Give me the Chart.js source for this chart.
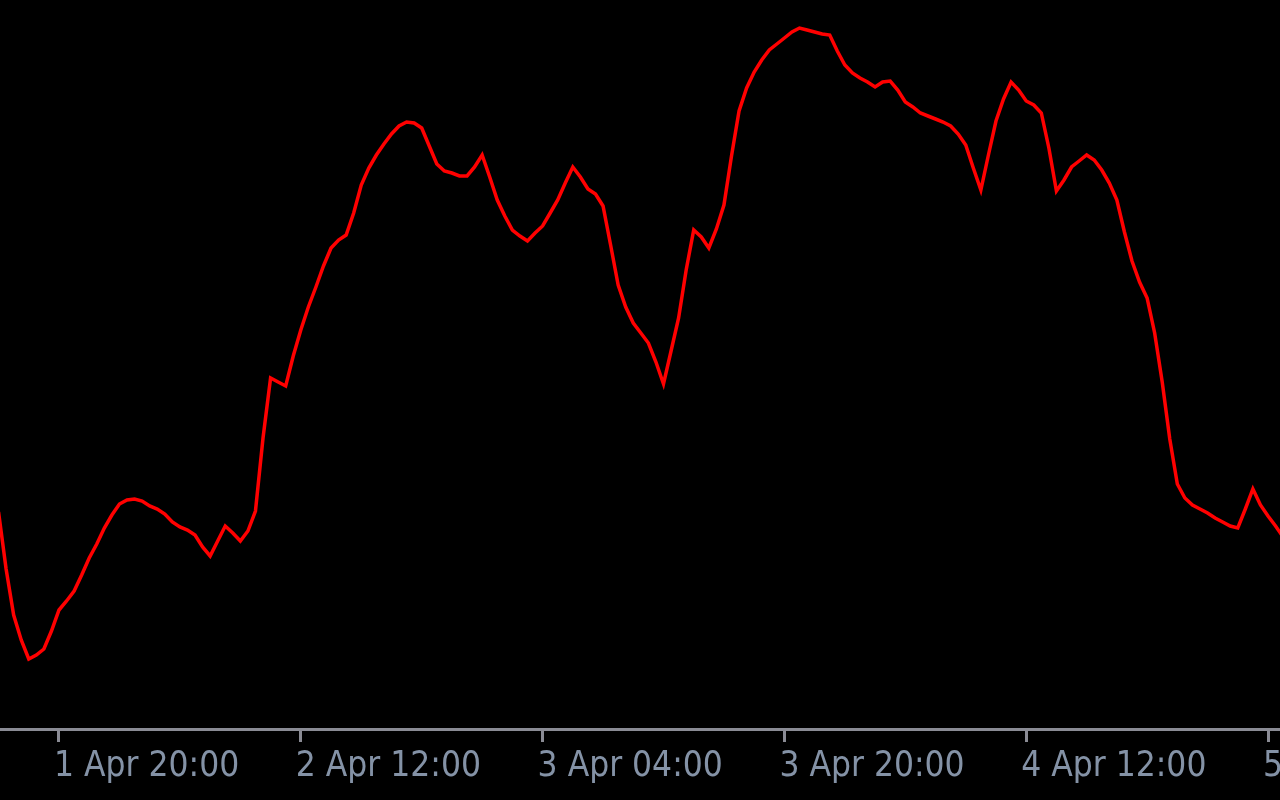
<!DOCTYPE html>
<html>
<head>
<meta charset="utf-8">
<script src="https://cdn.jsdelivr.net/npm/chart.js@4"></script>
<style>
    html, body { margin: 0; padding: 0; background: #000000; }
    #wrap { width: 1280px; height: 800px; position: relative; }
</style>
</head>
<body>
<div id="wrap"><canvas id="priceChart"></canvas></div>
<script>
// half-hour bars, hours counted from 1 Apr 00:00
const startHour = 16;
const stepHours = 0.5;

// indicator level, one value per half hour
const levels = [
    217, 160, 114, 89, 70, 74, 80, 98, 119, 128,
    138, 154, 171, 185, 201, 214, 225, 229, 230, 228,
    223, 220, 215, 207, 202, 199, 194, 182, 173, 188,
    203, 196, 188, 198, 218, 291, 351, 347, 343, 373,
    399, 422, 442, 463, 481, 489, 494, 516, 544, 561,
    574, 585, 595, 603, 607, 606, 601, 583, 565, 558,
    556, 553, 553, 562, 574, 552, 529, 513, 499, 493,
    488, 496, 503, 516, 529, 546, 562, 552, 540, 535,
    523, 484, 444, 422, 406, 396, 386, 367, 345, 378,
    411, 459, 499, 492, 481, 500, 524, 573, 618, 641,
    657, 669, 679, 685, 691, 697, 701, 699, 697, 695,
    694, 678, 664, 656, 651, 647, 642, 647, 648, 639,
    627, 622, 616, 613, 610, 607, 603, 595, 584, 561,
    539, 574, 608, 630, 647, 639, 628, 624, 616, 581,
    538, 549, 562, 568, 574, 569, 559, 546, 529, 497,
    468, 447, 431, 396, 347, 290, 245, 231, 224, 220,
    216, 211, 207, 203, 201, 220, 240, 224, 213, 203,
    192
];

const tickHours = [20, 36, 52, 68, 84, 100];
const tickLabels = ['1 Apr 20:00', '2 Apr 12:00', '3 Apr 04:00', '3 Apr 20:00', '4 Apr 12:00', '5 Apr 04:00'];

const axisColor = '#8a8b94';
const labelColor = '#8492a6';

const renderLineChart = () => {
    const ctx = document.getElementById('priceChart').getContext('2d');
    const points = levels.map((v, i) => ({ x: startHour + i * stepHours, y: v }));

    new Chart(ctx, {
        type: 'line',
        data: {
            datasets: [{
                data: points,
                borderColor: '#ff0000',
                borderWidth: 3.5,
                pointRadius: 0,
                tension: 0,
                fill: false
            }]
        },
        options: {
            responsive: true,
            maintainAspectRatio: false,
            animation: false,
            layout: { padding: 0 },
            plugins: {
                legend: { display: false },
                tooltip: { enabled: false }
            },
            scales: {
                x: {
                    type: 'linear',
                    min: 16.096,
                    max: 100.794,
                    afterBuildTicks: (scale) => {
                        scale.ticks = tickHours.map(h => ({ value: h }));
                    },
                    afterFit: (scale) => {
                        scale.height = 71;
                        scale.paddingLeft = 0;
                        scale.paddingRight = 0;
                    },
                    grid: {
                        drawOnChartArea: false,
                        drawTicks: true,
                        tickLength: 13,
                        tickWidth: 3,
                        tickColor: axisColor
                    },
                    border: {
                        display: true,
                        color: axisColor,
                        width: 3
                    },
                    ticks: {
                        autoSkip: false,
                        maxRotation: 0,
                        minRotation: 0,
                        align: 'start',
                        labelOffset: -5,
                        padding: 4,
                        color: labelColor,
                        font: { family: "'DejaVu Sans Condensed', 'DejaVu Sans', sans-serif", size: 35 },
                        callback: (value) => {
                            const idx = tickHours.indexOf(value);
                            return idx >= 0 ? tickLabels[idx] : null;
                        }
                    }
                },
                y: {
                    display: false,
                    min: 0,
                    max: 729
                }
            }
        }
    });
};

document.addEventListener('DOMContentLoaded', function() {
    renderLineChart();
});
</script>
</body>
</html>
